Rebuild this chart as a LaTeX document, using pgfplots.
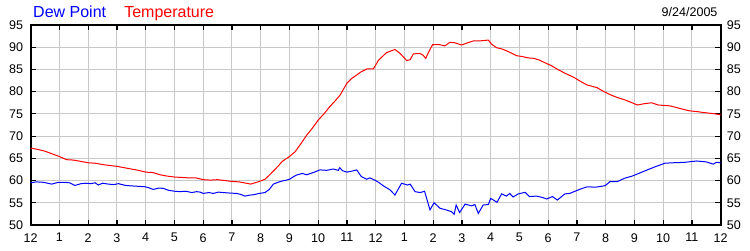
\documentclass[border=0pt]{standalone}
\usepackage{pgfplots}
\pgfplotsset{compat=1.18}
\usepackage{fontspec}
\setmainfont{Liberation Sans}
\definecolor{gridc}{RGB}{200,200,200}
\definecolor{dewc}{RGB}{0,0,255}
\definecolor{tempc}{RGB}{255,0,0}
\begin{document}
\begin{tikzpicture}
\useasboundingbox (-23.0pt,-18.75pt) rectangle (539.5pt,168.75pt);
\pgfplotsset{
  common/.style={
    at={(0pt,0pt)}, anchor=south west,
    scale only axis, width=517.5pt, height=150pt,
    xmin=0, xmax=24, ymin=50, ymax=95,
    ytick={50,55,...,95},
    /pgf/number format/assume math mode=true,
    tick label style={font=\fontsize{9.4}{10}\selectfont, inner sep=0pt, text=black},
  }
}
\begin{axis}[common,
  xtick={0,1,...,24},
  xticklabels={12,1,2,3,4,5,6,7,8,9,10,11,12,1,2,3,4,5,6,7,8,9,10,11,12},
  xtick pos=both, ytick pos=both,
  tick align=inside, major tick length=4pt,
  tick style={black, line width=0.9pt},
  grid=major, major grid style={draw=gridc, line width=0.75pt},
  axis line style={black, line width=1.3pt},
  xticklabel shift=6pt, yticklabel shift=5.5pt,
  clip=false,
]
\addplot[tempc, line width=0.75pt] coordinates {
(0,67.3)(0.25,67.0)(0.5,66.6)(0.75,66.0)(1.0,65.4)(1.25,64.7)(1.5,64.6)(1.75,64.3)
(2.0,64.0)(2.25,63.9)(2.5,63.6)(2.75,63.4)(3.0,63.2)(3.25,62.9)(3.5,62.6)(3.75,62.3)
(4.0,61.9)(4.25,61.8)(4.5,61.3)(4.75,61.0)(5.0,60.8)(5.25,60.7)(5.5,60.6)(5.75,60.6)
(6.0,60.2)(6.25,60.1)(6.5,60.2)(6.75,60.0)(7.0,59.8)(7.25,59.7)(7.5,59.4)(7.65,59.2)
(7.8,59.5)(8.0,59.9)(8.15,60.3)(8.3,61.2)(8.45,62.2)(8.6,63.2)(8.75,64.3)(9.0,65.4)
(9.2,66.5)(9.4,68.3)(9.6,70.2)(9.8,71.8)(10.0,73.6)(10.2,75.0)(10.4,76.6)(10.6,78.0)
(10.76,79.2)(11.0,81.9)(11.17,83.0)(11.34,83.75)(11.5,84.5)(11.69,85.1)(11.92,85.1)
(12.09,87.0)(12.25,88.0)(12.38,88.8)(12.55,89.2)(12.67,89.5)(12.85,88.6)(13.08,87.0)
(13.2,87.2)(13.31,88.5)(13.54,88.6)(13.65,88.2)(13.74,87.5)(13.85,89.0)(13.98,90.6)
(14.2,90.6)(14.41,90.3)(14.58,91.1)(14.75,91.0)(14.99,90.5)(15.2,91.0)(15.39,91.4)
(15.6,91.4)(15.74,91.5)(15.92,91.6)(16.03,90.7)(16.2,89.9)(16.4,89.6)(16.55,89.2)
(16.75,88.6)(16.9,88.1)(17.1,87.9)(17.3,87.6)(17.5,87.5)(17.7,87.1)(17.92,86.4)
(18.1,85.9)(18.33,85.0)(18.6,84.1)(18.9,83.2)(19.15,82.2)(19.36,81.5)(19.7,80.9)
(19.94,80.0)(20.2,79.2)(20.4,78.7)(20.69,78.1)(20.92,77.5)(21.1,77.0)(21.35,77.3)
(21.6,77.5)(21.83,77.0)(22.24,76.8)(22.6,76.2)(22.9,75.7)(23.2,75.5)(23.4,75.3)
(23.7,75.1)(24.0,74.8)
};
\addplot[dewc, line width=0.75pt] coordinates {
(0,59.5)(0.2,59.7)(0.45,59.6)(0.73,59.2)(0.96,59.6)(1.2,59.6)(1.35,59.5)(1.54,58.9)
(1.75,59.3)(1.9,59.4)(2.1,59.3)(2.24,59.5)(2.35,59.0)(2.5,59.4)(2.7,59.2)(2.9,59.1)
(3.05,59.3)(3.3,58.9)(3.5,58.8)(3.75,58.7)(3.98,58.6)(4.1,58.4)(4.26,58.0)(4.45,58.3)
(4.61,58.25)(4.8,57.8)(5.0,57.6)(5.2,57.5)(5.4,57.6)(5.6,57.3)(5.77,57.5)(5.9,57.4)
(6.0,57.1)(6.2,57.3)(6.35,57.1)(6.53,57.4)(6.7,57.3)(6.9,57.2)(7.16,57.1)(7.3,56.9)
(7.45,56.5)(7.6,56.7)(7.74,56.8)(7.95,57.1)(8.15,57.3)(8.3,58.0)(8.44,59.2)(8.6,59.6)
(8.75,59.9)(8.9,60.1)(9.02,60.35)(9.15,60.9)(9.25,61.25)(9.45,61.6)(9.6,61.3)(9.83,61.8)
(10.06,62.4)(10.3,62.3)(10.52,62.6)(10.7,62.3)(10.75,62.9)(10.85,62.2)(11.0,61.9)
(11.16,62.1)(11.34,62.4)(11.5,60.9)(11.69,60.3)(11.8,60.6)(11.97,60.1)(12.1,59.6)
(12.27,58.8)(12.5,57.9)(12.67,56.75)(12.9,59.4)(13.1,59.0)(13.2,59.2)(13.37,57.5)
(13.55,57.3)(13.7,57.6)(13.89,53.4)(14.03,55.0)(14.24,53.75)(14.45,53.4)(14.64,53.0)
(14.73,52.4)(14.8,54.5)(14.92,52.8)(15.11,54.7)(15.34,54.3)(15.45,54.6)(15.57,52.6)
(15.74,54.5)(15.92,54.6)(16.0,56.0)(16.22,55.1)(16.38,57.0)(16.55,56.5)(16.66,57.1)
(16.78,56.3)(16.96,57.0)(17.2,57.35)(17.35,56.4)(17.6,56.5)(17.8,56.2)(17.95,55.85)
(18.15,56.4)(18.32,55.6)(18.58,57.0)(18.75,57.1)(18.9,57.5)(19.13,58.1)(19.36,58.6)
(19.65,58.5)(19.98,58.85)(20.15,59.75)(20.4,59.75)(20.65,60.5)(20.92,61.0)(21.15,61.6)
(21.45,62.4)(21.68,63.0)(22.06,63.9)(22.34,64.0)(22.75,64.1)(23.16,64.4)(23.5,64.2)
(23.74,63.7)(23.85,64.1)(24.0,64.0)
};
\node[anchor=base west, inner sep=0pt, text=dewc, font=\fontsize{12}{14}\selectfont] at (rel axis cs:0,1) [yshift=5.6pt, xshift=1.7pt] {Dew Point};
\node[anchor=base west, inner sep=0pt, text=tempc, font=\fontsize{12}{14}\selectfont] at (rel axis cs:0,1) [yshift=5.6pt, xshift=70pt] {Temperature};
\node[anchor=base east, inner sep=0pt, text=black, font=\fontsize{9.4}{11}\selectfont] at (rel axis cs:1,1) [yshift=6.2pt, xshift=-2.2pt] {9/24/2005};
\end{axis}
\begin{axis}[common,
  xtick=\empty,
  yticklabel pos=right,
  axis line style={draw=none},
  tick style={draw=none},
  yticklabel shift=4.5pt,
]
\end{axis}
\end{tikzpicture}
\end{document}
